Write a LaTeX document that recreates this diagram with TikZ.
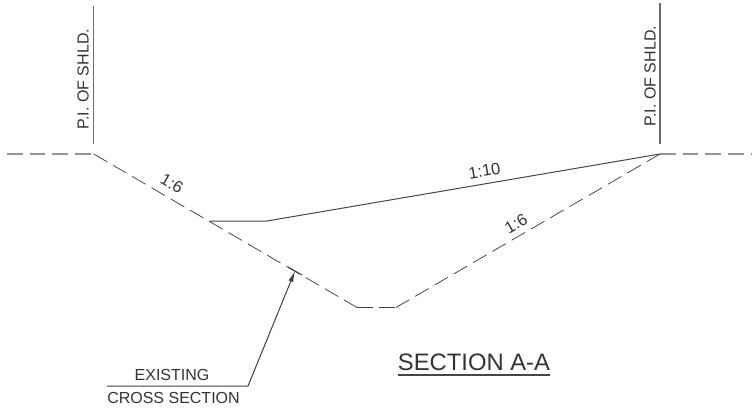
\documentclass[tikz,border=0pt]{standalone}
\usepackage{fontspec}
\usetikzlibrary{arrows.meta}
\setmainfont{Liberation Sans}
\tikzset{
  lbl/.style={inner sep=0pt,text=black!80,font=\fontsize{16}{16}\selectfont},
  slope/.style={inner sep=0pt,text=black!80,font=\fontsize{16.5}{17}\selectfont},
  titletext/.style={inner sep=0pt,text=black!80,font=\fontsize{23.8}{24}\selectfont},
  solidln/.style={draw=black!72,line width=1pt},
  guideln/.style={draw=black!58,line width=1.1pt},
  shldash/.style={draw=black!42,line width=1.3pt,dash pattern=on 15.5pt off 7.2pt},
  ditch/.style={draw=black!75,line width=0.75pt,dash pattern=on 15.5pt off 6.8pt},
  leader/.style={draw=black!75,line width=1pt},
}
\begin{document}
\begin{tikzpicture}[x=1pt,y=-1pt]
\useasboundingbox (0,0) rectangle (752,413);
\coordinate (ltop) at (93.7,6);
\coordinate (lbot) at (93.7,144);
\coordinate (rtop) at (660,3);
\coordinate (rbot) at (660,144);
\coordinate (lfar) at (7,154);
\coordinate (lpi) at (93.7,154);
\coordinate (rpi) at (660,154);
\coordinate (rfar) at (752,154);
\coordinate (bl) at (357,307.5);
\coordinate (br) at (396,307.5);
\coordinate (s1) at (210,221);
\coordinate (s2) at (267,221);
\coordinate (l1) at (107,386);
\coordinate (l2) at (248,386);
\coordinate (l3) at (295,271);
\coordinate (t1) at (288,267);
\coordinate (t2) at (302,275);
\draw[guideln] (ltop) -- (lbot);
\draw[guideln] (rtop) -- (rbot);
\draw[shldash] (lfar) -- (lpi);
\draw[shldash] (rpi) -- (rfar);
\draw[ditch] (lpi) -- (bl);
\draw[ditch] (rpi) -- (br);
\draw[ditch] (bl) -- (br);
\draw[solidln] (s1) -- (s2) -- (rpi);
\draw[leader,-{Latex[length=11pt,width=5pt]}] (l1) -- (l2) -- (l3);
\draw[leader] (t1) -- (t2);
\node[lbl,rotate=90] (pl) at (83,79) {P.I. OF SHLD.};
\node[lbl,rotate=90] (pr) at (650,76) {P.I. OF SHLD.};
\node[slope,rotate=-30] (s6l) at (172,183.5) {1:6};
\node[slope,rotate=9.7] (s10) at (484.5,171) {1:10};
\node[slope,rotate=30] (s6r) at (516,223.5) {1:6};
\node[lbl] (ex) at (172,374.5) {EXISTING};
\node[lbl] (cs) at (173.5,397.5) {CROSS SECTION};
\node[titletext] (title) at (474,362.5) {SECTION A-A};
\coordinate (u1) at (398,375);
\coordinate (u2) at (550,375);
\draw[draw=black!72,line width=1.2pt] (u1) -- (u2);
\end{tikzpicture}
\end{document}
